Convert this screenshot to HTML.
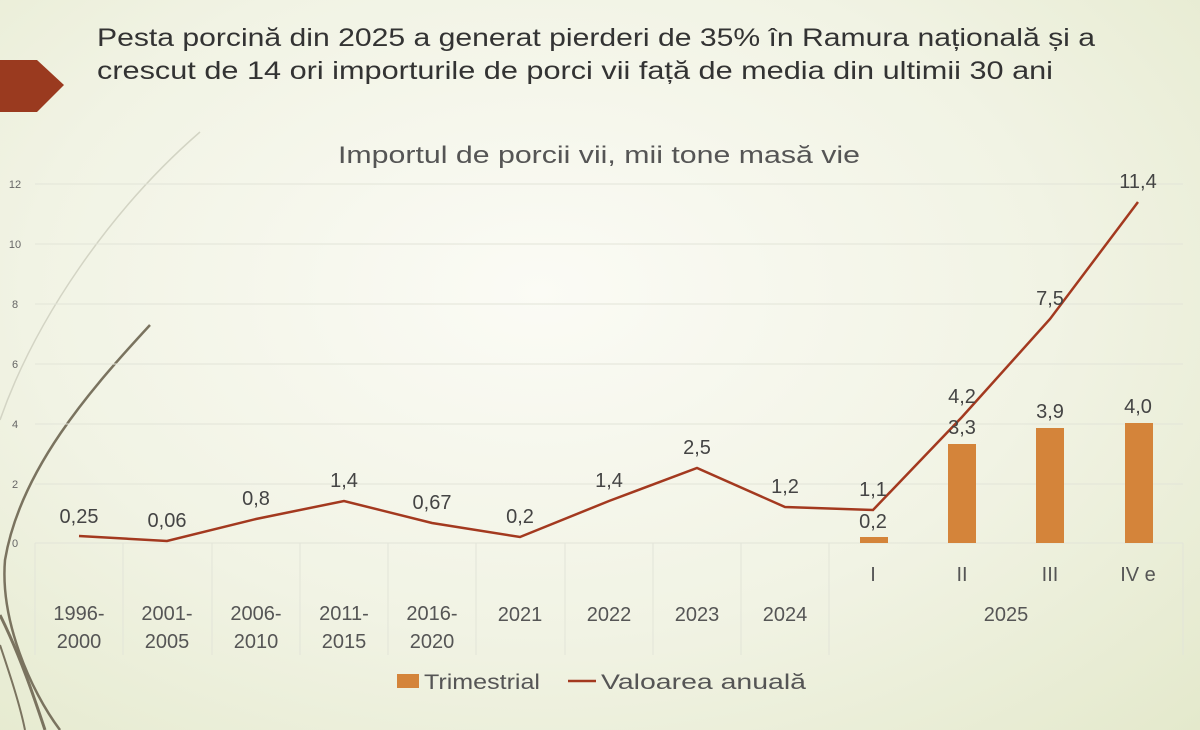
<!DOCTYPE html>
<html><head><meta charset="utf-8"><style>
body{margin:0;}
#c{width:1200px;height:730px;position:relative;overflow:hidden;background:radial-gradient(ellipse at 45% 40%,#fbfbf5 0%,#f1f3e4 55%,#e4e9cc 100%);font-family:"Liberation Sans",sans-serif;}
</style></head><body><div id="c">
<svg width="1200" height="730" style="position:absolute;left:0;top:0" font-family="Liberation Sans, sans-serif">
<polygon points="0,60 37,60 64,85 37,112 0,112" fill="#9a3a1f"/>
<text x="97" y="46" font-size="25" fill="#333" textLength="998" lengthAdjust="spacingAndGlyphs">Pesta porcină din 2025 a generat pierderi de 35% în Ramura națională și a</text>
<text x="97" y="79" font-size="25" fill="#333" textLength="956" lengthAdjust="spacingAndGlyphs">crescut de 14 ori importurile de porci vii față de media din ultimii 30 ani</text>
<text x="338" y="163" font-size="24" fill="#555" textLength="522" lengthAdjust="spacingAndGlyphs">Importul de porcii vii, mii tone masă vie</text>
<!-- decorative curves -->
<path d="M200,132 C110,210 35,320 0,420" stroke="#d3d4c4" stroke-width="1.5" fill="none"/>
<path d="M150,325 C90,390 20,470 5,560 C0,620 30,690 60,730" stroke="#7a735f" stroke-width="2.5" fill="none"/>
<path d="M0,615 C20,655 35,700 45,730" stroke="#7a735f" stroke-width="3" fill="none"/>
<path d="M0,645 C10,675 20,705 25,730" stroke="#7a735f" stroke-width="2" fill="none"/>
<g stroke="#e2e4d8" stroke-width="1">
<line x1="35" x2="1183" y1="184" y2="184"/><line x1="35" x2="1183" y1="244" y2="244"/>
<line x1="35" x2="1183" y1="304" y2="304"/><line x1="35" x2="1183" y1="364" y2="364"/>
<line x1="35" x2="1183" y1="424" y2="424"/><line x1="35" x2="1183" y1="484" y2="484"/>
<line x1="35" x2="1183" y1="543" y2="543"/>
<line x1="35" y1="543" x2="35" y2="655"/><line x1="123" y1="543" x2="123" y2="655"/>
<line x1="212" y1="543" x2="212" y2="655"/><line x1="300" y1="543" x2="300" y2="655"/>
<line x1="388" y1="543" x2="388" y2="655"/><line x1="476" y1="543" x2="476" y2="655"/>
<line x1="565" y1="543" x2="565" y2="655"/><line x1="653" y1="543" x2="653" y2="655"/>
<line x1="741" y1="543" x2="741" y2="655"/><line x1="829" y1="543" x2="829" y2="655"/>
<line x1="1183" y1="543" x2="1183" y2="655"/>
</g>
<g font-size="11" fill="#666" text-anchor="middle">
<text x="15" y="188">12</text><text x="15" y="248">10</text><text x="15" y="308">8</text>
<text x="15" y="368">6</text><text x="15" y="428">4</text><text x="15" y="488">2</text><text x="15" y="547">0</text>
</g>
<g fill="#d4843a">
<rect x="860" y="537" width="28" height="6"/>
<rect x="948" y="444" width="28" height="99"/>
<rect x="1036" y="428" width="28" height="115"/>
<rect x="1125" y="423" width="28" height="120"/>
</g>
<polyline fill="none" stroke="#a3391f" stroke-width="2.5" points="79,536 167,541 256,519 344,501 432,523 520,537 609,501 697,468 785,507 873,510 962,417 1050,319 1138,202"/>
<g font-size="20" fill="#444" text-anchor="middle">
<text x="79" y="523">0,25</text><text x="167" y="527">0,06</text><text x="256" y="505">0,8</text>
<text x="344" y="487">1,4</text><text x="432" y="509">0,67</text><text x="520" y="523">0,2</text>
<text x="609" y="487">1,4</text><text x="697" y="454">2,5</text><text x="785" y="493">1,2</text>
<text x="873" y="496">1,1</text><text x="962" y="403">4,2</text><text x="1050" y="305">7,5</text>
<text x="1138" y="188">11,4</text>
<text x="873" y="528">0,2</text><text x="962" y="434">3,3</text><text x="1050" y="418">3,9</text><text x="1138" y="413">4,0</text>
</g>
<g font-size="20" fill="#555" text-anchor="middle">
<text x="79" y="620">1996-</text><text x="79" y="648">2000</text>
<text x="167" y="620">2001-</text><text x="167" y="648">2005</text>
<text x="256" y="620">2006-</text><text x="256" y="648">2010</text>
<text x="344" y="620">2011-</text><text x="344" y="648">2015</text>
<text x="432" y="620">2016-</text><text x="432" y="648">2020</text>
<text x="520" y="621">2021</text><text x="609" y="621">2022</text><text x="697" y="621">2023</text><text x="785" y="621">2024</text>
<text x="873" y="581">I</text><text x="962" y="581">II</text><text x="1050" y="581">III</text><text x="1138" y="581">IV e</text>
<text x="1006" y="621">2025</text>
</g>
<rect x="397" y="674" width="22" height="14" fill="#d4843a"/>
<text x="424" y="689" font-size="21" fill="#555" textLength="116" lengthAdjust="spacingAndGlyphs">Trimestrial</text>
<line x1="568" x2="596" y1="681" y2="681" stroke="#a3391f" stroke-width="2.5"/>
<text x="601" y="689" font-size="21" fill="#555" textLength="205" lengthAdjust="spacingAndGlyphs">Valoarea anuală</text>
</svg>
</div></body></html>
